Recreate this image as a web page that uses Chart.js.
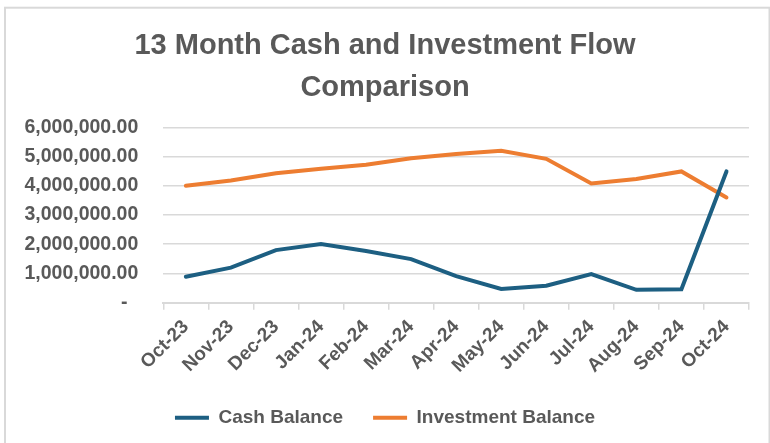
<!DOCTYPE html>
<html>
<head>
<meta charset="utf-8">
<script src="https://cdn.jsdelivr.net/npm/chart.js@4.4.0/dist/chart.umd.min.js"></script>
<style>
  html, body { margin: 0; padding: 0; background: #ffffff; }
  #wrap { width: 770px; height: 443px; }
</style>
</head>
<body>
<div id="wrap"><canvas id="chart" width="770" height="443"></canvas></div>
<script>
// chart data
const months = ['Oct-23', 'Nov-23', 'Dec-23', 'Jan-24', 'Feb-24', 'Mar-24', 'Apr-24',
  'May-24', 'Jun-24', 'Jul-24', 'Aug-24', 'Sep-24', 'Oct-24'];
const cashBalance = [890000, 1200000, 1800000, 2010000, 1770000, 1490000, 910000,
  470000, 580000, 980000, 440000, 460000, 4490000];
const investmentBalance = [4000000, 4180000, 4430000, 4580000, 4720000, 4940000, 5090000,
  5200000, 4920000, 4080000, 4230000, 4490000, 3600000];
const yTickLabels = ['-  ', '1,000,000.00', '2,000,000.00', '3,000,000.00',
  '4,000,000.00', '5,000,000.00', '6,000,000.00'];

const textColor = '#595959';
const gridColor = '#D9D9D9';
const fontFamily = '"Liberation Sans", Arial, sans-serif';

// grey frame around the whole chart, like the Excel chart border
const frame = {
  id: 'frame',
  beforeDraw(chart) {
    const ctx = chart.ctx;
    ctx.save();
    ctx.fillStyle = '#ffffff';
    ctx.fillRect(0, 0, chart.width, chart.height);
    ctx.strokeStyle = gridColor;
    ctx.lineWidth = 2;
    ctx.strokeRect(5, 7.7, 764.5, 500);
    ctx.restore();
  }
};

const ctx = document.getElementById('chart').getContext('2d');
new Chart(ctx, {
  type: 'line',
  data: {
    labels: months,
    datasets: [
      {
        label: 'Cash Balance',
        data: cashBalance,
        borderColor: '#1D5F82',
        backgroundColor: '#1D5F82',
        borderWidth: 4,
        borderCapStyle: 'round',
        pointRadius: 0,
        tension: 0,
        yAxisID: 'y',
      },
      {
        label: 'Investment Balance',
        data: investmentBalance,
        borderColor: '#ED7D31',
        backgroundColor: '#ED7D31',
        borderWidth: 4,
        borderCapStyle: 'round',
        pointRadius: 0,
        tension: 0,
        yAxisID: 'y',
      },
    ],
  },
  options: {
    responsive: false,
    animation: false,
    devicePixelRatio: 1,
    layout: {
      padding: { top: 0, left: 0, right: 0, bottom: 19.8 },
    },
    plugins: {
      title: {
        display: true,
        text: ['13 Month Cash and Investment Flow', 'Comparison'],
        color: textColor,
        font: { family: fontFamily, size: 29, weight: 'bold', lineHeight: 1.448 },
        padding: { top: 25, bottom: 18.3 },
      },
      legend: {
        position: 'bottom',
        maxHeight: 45,
        labels: {
          color: textColor,
          font: { family: fontFamily, size: 19, weight: 'bold' },
          usePointStyle: true,
          pointStyle: 'line',
          pointStyleWidth: 34,
          boxHeight: 19,
          padding: 30,
        },
      },
      tooltip: { enabled: false },
    },
    scales: {
      x: {
        offset: true,
        grid: {
          display: true,
          offset: true,
          drawOnChartArea: false,
          drawTicks: true,
          tickLength: 7,
          color: gridColor,
          lineWidth: 1.5,
        },
        border: { display: true, color: gridColor, width: 2 },
        ticks: {
          color: textColor,
          font: { family: fontFamily, size: 19, weight: 'bold' },
          minRotation: 45,
          maxRotation: 45,
          autoSkip: false,
          padding: 6,
        },
        afterFit: (scale) => { scale.height = 75.5; },
      },
      y: {
        position: 'left',
        min: 0,
        max: 6000000,
        grid: {
          color: gridColor,
          lineWidth: 1.5,
          drawTicks: false,
        },
        border: { display: false },
        ticks: {
          stepSize: 1000000,
          color: textColor,
          font: { family: fontFamily, size: 19.5, weight: 'bold' },
          padding: 25,
          callback: (value, index) => yTickLabels[index],
        },
        afterFit: (scale) => { scale.width = 163.3; },
      },
      // empty axis on the right, only to keep the plot clear of the frame
      yRight: {
        position: 'right',
        display: true,
        grid: { display: false, drawTicks: false },
        border: { display: false },
        ticks: { display: false },
        afterFit: (scale) => { scale.width = 21; },
      },
    },
  },
  plugins: [frame],
});
</script>
</body>
</html>
